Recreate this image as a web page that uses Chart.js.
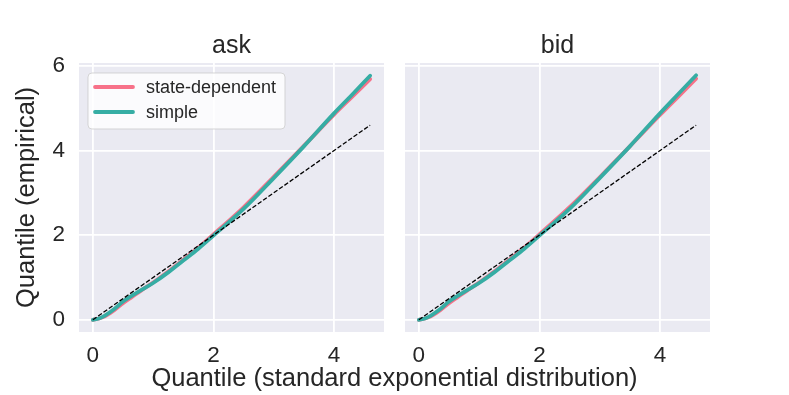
<!DOCTYPE html>
<html>
<head>
<meta charset="utf-8">
<script src="https://cdn.jsdelivr.net/npm/chart.js@4"></script>
<style>
  html, body { margin: 0; padding: 0; background: #ffffff; }
  #wrap { position: relative; width: 789px; height: 395px; overflow: hidden; }
  canvas { position: absolute; left: 0; top: 0; }
  #xlabel { position: absolute; left: 0; width: 789px; top: 362px; text-align: center;
            font-family: "Liberation Sans", Arial, sans-serif; font-size: 25.5px; line-height: 30px; color: #262626; }
</style>
</head>
<body>
<div id="wrap">
  <canvas id="c1" width="789" height="395"></canvas>
  <canvas id="c2" width="789" height="395"></canvas>
  <div id="xlabel">Quantile (standard exponential distribution)</div>
</div>
<script>
// ---- data ----
const panelTitles = ["ask", "bid"];
const seriesLabels = ["state-dependent", "simple"];
const xTheo = [0, 0.1, 0.2, 0.35, 0.5, 0.65, 0.8, 1, 1.25, 1.5, 1.75, 2, 2.5, 3, 3.5, 4, 4.3, 4.6];
const askState  = [0, 0.03, 0.08, 0.22, 0.39, 0.54, 0.69, 0.88, 1.14, 1.42, 1.71, 2.02, 2.66, 3.38, 4.11, 4.85, 5.27, 5.69];
const askSimple = [0, 0.03, 0.10, 0.25, 0.43, 0.57, 0.70, 0.87, 1.12, 1.40, 1.68, 1.99, 2.62, 3.35, 4.10, 4.88, 5.32, 5.77];
const bidState  = [0, 0.03, 0.08, 0.22, 0.39, 0.54, 0.69, 0.88, 1.14, 1.42, 1.71, 2.02, 2.66, 3.37, 4.10, 4.84, 5.27, 5.70];
const bidSimple = [0, 0.03, 0.10, 0.25, 0.43, 0.57, 0.70, 0.87, 1.12, 1.40, 1.68, 1.99, 2.62, 3.35, 4.10, 4.88, 5.33, 5.78];
const refLineX = [0, 4.6];
const xTickValues = [0, 2, 4];
const yTickValues = [0, 2, 4, 6];
const xRange = [-0.23, 4.83];
const yRange = [-0.289, 6.07];

// ---- styles ----
const FONT = '"Liberation Sans", Arial, sans-serif';
const TEXT = '#262626';
const PINK = '#f77189';
const TEAL = '#36ada4';

function pts(xs, ys) { return xs.map((x, i) => ({ x: x, y: ys[i] })); }

const bgPlugin = {
  id: 'bg',
  beforeDraw(chart) {
    const { ctx, chartArea: a } = chart;
    ctx.save();
    ctx.fillStyle = '#eaeaf2';
    ctx.fillRect(a.left, a.top, a.right - a.left, a.bottom - a.top);
    ctx.restore();
  }
};

const panelTitlePlugin = {
  id: 'panelTitle',
  afterDraw(chart, args, opts) {
    const { ctx, chartArea: a } = chart;
    ctx.save();
    ctx.font = '25px ' + FONT;
    ctx.fillStyle = TEXT;
    ctx.textAlign = 'center';
    ctx.textBaseline = 'alphabetic';
    ctx.fillText(opts.text, (a.left + a.right) / 2, 53);
    ctx.restore();
  }
};

const legendBoxPlugin = {
  id: 'legendBox',
  afterDraw(chart, args, opts) {
    if (!opts.show) return;
    const { ctx, chartArea: a } = chart;
    const x = a.left + 9, y = a.top + 10, w = 197, h = 56;
    ctx.save();
    ctx.beginPath();
    const r = 4;
    ctx.moveTo(x + r, y);
    ctx.arcTo(x + w, y, x + w, y + h, r);
    ctx.arcTo(x + w, y + h, x, y + h, r);
    ctx.arcTo(x, y + h, x, y, r);
    ctx.arcTo(x, y, x + w, y, r);
    ctx.closePath();
    ctx.fillStyle = 'rgba(255,255,255,0.8)';
    ctx.fill();
    ctx.strokeStyle = 'rgba(204,204,204,0.8)';
    ctx.lineWidth = 1;
    ctx.stroke();
    const items = chart.data.datasets.filter(d => d.label);
    items.forEach((d, i) => {
      const ly = y + 14 + i * 25;
      ctx.beginPath();
      ctx.strokeStyle = d.borderColor;
      ctx.lineWidth = 3.8;
      ctx.lineCap = 'round';
      ctx.moveTo(x + 7, ly);
      ctx.lineTo(x + 45, ly);
      ctx.stroke();
      ctx.fillStyle = TEXT;
      ctx.font = '18px ' + FONT;
      ctx.textBaseline = 'middle';
      ctx.textAlign = 'left';
      ctx.fillText(d.label, x + 58, ly + 1);
    });
    ctx.restore();
  }
};

function makeChart(id, title, stateY, simpleY, isLeft) {
  const datasets = [
    { label: seriesLabels[0], data: pts(xTheo, stateY), borderColor: PINK, borderWidth: 3.8, order: 2,
      pointRadius: 0, cubicInterpolationMode: 'monotone', fill: false, borderCapStyle: 'round' },
    { label: seriesLabels[1], data: pts(xTheo, simpleY), borderColor: TEAL, borderWidth: 3.8, order: 1,
      pointRadius: 0, cubicInterpolationMode: 'monotone', fill: false, borderCapStyle: 'round' },
    { label: '', data: pts(refLineX, refLineX), borderColor: '#000000', borderWidth: 1.3, order: 0,
      borderDash: [4.5, 2], pointRadius: 0, fill: false }
  ];
  return new Chart(document.getElementById(id), {
    type: 'line',
    data: { datasets },
    plugins: [bgPlugin, panelTitlePlugin, legendBoxPlugin],
    options: {
      responsive: false,
      animation: false,
      events: [],
      layout: { padding: isLeft ? { left: 0, right: 405, top: 63, bottom: 0 }
                                : { left: 405, right: 79, top: 63, bottom: 0 } },
      plugins: {
        legend: { display: false },
        tooltip: { enabled: false },
        panelTitle: { text: title },
        legendBox: { show: isLeft }
      },
      scales: {
        x: {
          type: 'linear', min: xRange[0], max: xRange[1],
          afterBuildTicks: s => { s.ticks = xTickValues.map(v => ({ value: v })); },
          afterFit: s => { s.height = 63; },
          border: { display: false },
          grid: { color: '#ffffff', lineWidth: 1.8, drawTicks: false },
          ticks: { padding: 10, color: TEXT, font: { family: FONT, size: 22.5 }, maxRotation: 0 }
        },
        y: {
          type: 'linear', min: yRange[0], max: yRange[1],
          afterBuildTicks: s => { s.ticks = yTickValues.map(v => ({ value: v })); },
          afterFit: s => { s.width = isLeft ? 79 : 0; },
          border: { display: false },
          grid: { color: '#ffffff', lineWidth: 1.8, drawTicks: false },
          ticks: { display: isLeft, padding: 14, color: TEXT, font: { family: FONT, size: 22.5 } },
          title: { display: isLeft, text: 'Quantile (empirical)', color: TEXT,
                   font: { family: FONT, size: 25.5, lineHeight: 1 }, padding: { top: 14, bottom: 0 } }
        }
      }
    }
  });
}

makeChart('c1', panelTitles[0], askState, askSimple, true);
makeChart('c2', panelTitles[1], bidState, bidSimple, false);
</script>
</body>
</html>
